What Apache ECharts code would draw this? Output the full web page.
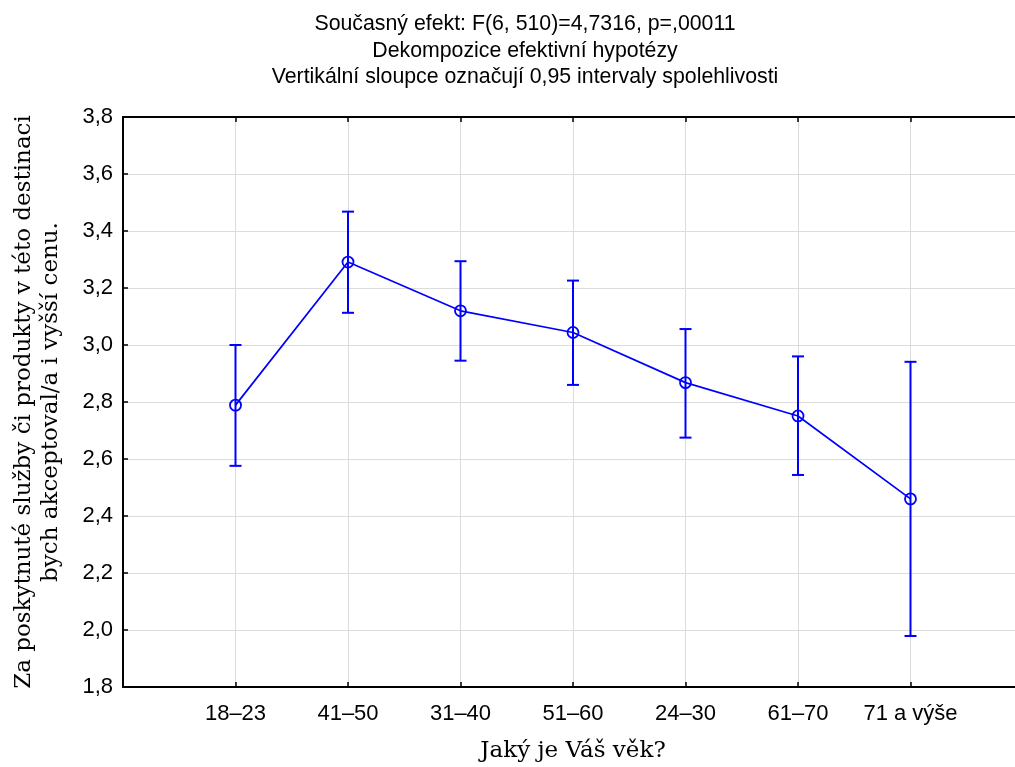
<!DOCTYPE html>
<html>
<head>
<meta charset="utf-8">
<script src="https://cdn.jsdelivr.net/npm/echarts@6/dist/echarts.min.js"></script>
<style>
html,body{margin:0;padding:0;background:#fff;}
#chart{width:1015px;height:767px;}
</style>
</head>
<body>
<div id="chart"></div>
<script>
const categories = ['18–23', '41–50', '31–40', '51–60', '24–30', '61–70', '71 a výše'];
const means = [2.789, 3.291, 3.120, 3.044, 2.868, 2.751, 2.460];
const lower = [2.576, 3.113, 2.945, 2.860, 2.675, 2.544, 1.979];
const upper = [3.000, 3.468, 3.294, 3.226, 3.056, 2.960, 2.941];
const yTicks = { min: 1.8, max: 3.8, interval: 0.2 };
const titleLines = [
  'Současný efekt: F(6, 510)=4,7316, p=,00011',
  'Dekompozice efektivní hypotézy',
  'Vertikální sloupce označují 0,95 intervaly spolehlivosti'
];
const xTitle = 'Jaký je Váš věk?';
const yTitle = 'Za poskytnuté služby či produkty v této destinaci\nbych akceptoval/a i vyšší cenu.';

const axisCats = [''].concat(categories, ['']);
const blue = '#0000ff';
const sans = '"Liberation Sans", Arial, sans-serif';
const serif = '"DejaVu Serif", serif';

const chart = echarts.init(document.getElementById('chart'), null, { renderer: 'canvas' });
chart.setOption({
  animation: false,
  backgroundColor: '#fff',
  title: {
    text: titleLines.join('\n'),
    left: 520,
    top: 6,
    textAlign: 'center',
    textStyle: { fontFamily: sans, fontSize: 21.3, fontWeight: 'normal', color: '#000', lineHeight: 26.5 }
  },
  grid: { left: 123, top: 117, width: 900, height: 570, containLabel: false, outerBoundsMode: 'none' },
  xAxis: [{
    type: 'category',
    data: axisCats,
    boundaryGap: false,
    position: 'bottom',
    name: xTitle,
    nameLocation: 'middle',
    nameGap: 53,
    nameTextStyle: { fontFamily: serif, fontSize: 23, color: '#000' },
    axisLine: { lineStyle: { color: '#000', width: 2 } },
    axisTick: { inside: true, length: 5, lineStyle: { color: '#000', width: 1.5 } },
    axisLabel: { fontFamily: sans, fontSize: 22, color: '#000', margin: 16, interval: 0 },
    splitLine: { show: true, lineStyle: { color: '#dcdcdc', width: 1 } }
  }, {
    type: 'category',
    data: axisCats,
    boundaryGap: false,
    position: 'top',
    axisLine: { lineStyle: { color: '#000', width: 2 } },
    axisTick: { inside: true, length: 5, lineStyle: { color: '#000', width: 1.5 } },
    axisLabel: { show: false },
    splitLine: { show: false }
  }],
  yAxis: {
    type: 'value',
    min: yTicks.min,
    max: yTicks.max,
    interval: yTicks.interval,
    name: yTitle,
    nameLocation: 'middle',
    nameGap: 58,
    nameRotate: 90,
    nameTextStyle: { fontFamily: serif, fontSize: 23, color: '#000', lineHeight: 27, align: 'center' },
    axisLine: { show: true, lineStyle: { color: '#000', width: 2 } },
    axisTick: { show: true, inside: true, length: 5, lineStyle: { color: '#000', width: 1.5 } },
    axisLabel: {
      fontFamily: sans, fontSize: 22, color: '#000', margin: 10,
      formatter: v => v.toFixed(1).replace('.', ',')
    },
    splitLine: { show: true, lineStyle: { color: '#dcdcdc', width: 1 } }
  },
  series: [{
    type: 'custom',
    name: 'ci',
    xAxisIndex: 0,
    data: categories.map((c, i) => [c, lower[i], upper[i]]),
    renderItem: function (params, api) {
      const x = api.value(0);
      const lo = api.coord([x, api.value(1)]);
      const hi = api.coord([x, api.value(2)]);
      const hw = 6;
      const style = { stroke: blue, lineWidth: 2 };
      return {
        type: 'group',
        children: [
          { type: 'line', shape: { x1: lo[0], y1: lo[1], x2: hi[0], y2: hi[1] }, style: style },
          { type: 'line', shape: { x1: lo[0] - hw, y1: lo[1], x2: lo[0] + hw, y2: lo[1] }, style: style },
          { type: 'line', shape: { x1: hi[0] - hw, y1: hi[1], x2: hi[0] + hw, y2: hi[1] }, style: style }
        ]
      };
    },
    z: 3
  }, {
    type: 'line',
    name: 'mean',
    xAxisIndex: 0,
    data: categories.map((c, i) => [c, means[i]]),
    symbol: 'circle',
    symbolSize: 11,
    lineStyle: { color: blue, width: 1.7 },
    itemStyle: { color: 'rgba(0,0,0,0)', borderColor: blue, borderWidth: 1.8 },
    z: 4
  }]
});
</script>
</body>
</html>
